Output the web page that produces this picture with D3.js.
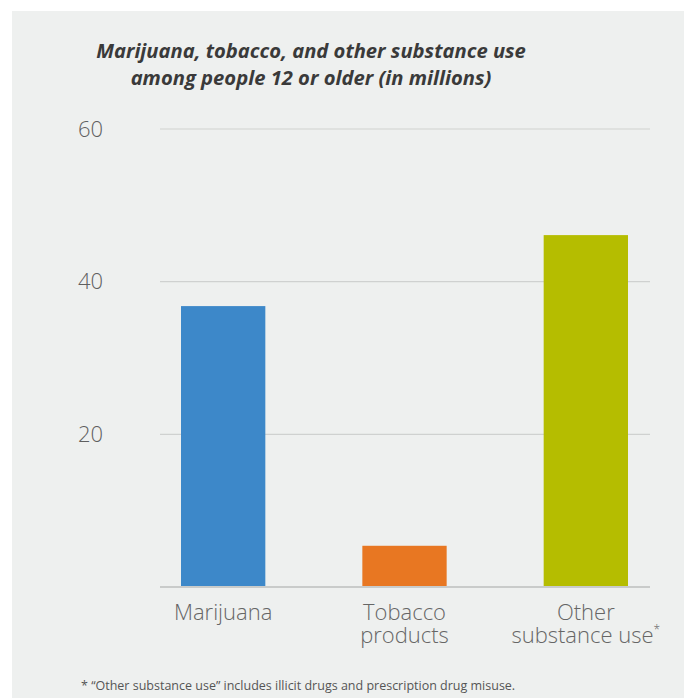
<!DOCTYPE html>
<html>
<head>
<meta charset="utf-8">
<script src="https://cdn.jsdelivr.net/npm/d3@7"></script>
<style>
  html, body { margin: 0; padding: 0; background: #ffffff; }
  svg { display: block; }
</style>
</head>
<body>
<svg id="chart" width="689" height="698"></svg>
<script>
const categories = ["Marijuana", "Tobacco products", "Other substance use"];
const categoryLines = [["Marijuana"], ["Tobacco", "products"], ["Other", "substance use"]];
const values = [36.8, 5.4, 46.1];
const colors = ["#3d88c9", "#e87722", "#b5bd00"];
const yTicks = [20, 40, 60];
const titleLines = ["Marijuana, tobacco, and other substance use", "among people 12 or older (in millions)"];
const footnote = "* \u201cOther substance use\u201d includes illicit drugs and prescription drug misuse.";

const svg = d3.select("#chart");
const font = "'Open Sans', 'Segoe UI', sans-serif";

svg.append("rect").attr("x", 12).attr("y", 11).attr("width", 672).attr("height", 687).attr("fill", "#eef0ef");

const y = d3.scaleLinear().domain([0, 60]).range([587, 129]);
const x = d3.scaleBand().domain(categories).range([132.5, 676.5]).paddingInner(0.535).paddingOuter(0.2675);
const gridX0 = 160, gridX1 = 650;

// gridlines
svg.append("g").selectAll("line").data(yTicks).join("line")
  .attr("x1", gridX0).attr("x2", gridX1)
  .attr("y1", d => y(d)).attr("y2", d => y(d))
  .attr("stroke", "#cfd1d0").attr("stroke-width", 1.2);

// y tick labels
svg.append("g").selectAll("text").data(yTicks).join("text")
  .attr("x", 103).attr("y", d => y(d)).attr("dy", "0.35em")
  .attr("text-anchor", "end")
  .attr("font-family", font).attr("font-weight", 300).attr("font-size", 22)
  .attr("fill", "#5f5f5f")
  .text(d => d);

// bars
svg.append("g").selectAll("rect").data(values).join("rect")
  .attr("x", (d, i) => x(categories[i]))
  .attr("width", x.bandwidth())
  .attr("y", d => y(d))
  .attr("height", d => y(0) - y(d))
  .attr("fill", (d, i) => colors[i]);

// baseline
svg.append("line").attr("x1", gridX0).attr("x2", gridX1)
  .attr("y1", y(0)).attr("y2", y(0))
  .attr("stroke", "#c9cbca").attr("stroke-width", 2);

// category labels (one text element per line)
const labelRows = [];
categories.forEach((c, i) => categoryLines[i].forEach((line, j) => labelRows.push({ c, i, j, line })));
const lab = svg.append("g").selectAll("text").data(labelRows).join("text")
  .attr("x", d => x(d.c) + x.bandwidth() / 2)
  .attr("y", d => 620 + d.j * 23)
  .attr("text-anchor", "middle")
  .attr("font-family", font).attr("font-weight", 300).attr("font-size", 22)
  .attr("fill", "#666666")
  .text(d => d.line);
lab.filter(d => d.i === 2 && d.j === 1)
  .append("tspan").attr("dy", -9).attr("font-size", 12).text("*");

// title
svg.append("g").selectAll("text").data(titleLines).join("text")
  .attr("x", 311).attr("y", (d, i) => 58 + i * 27)
  .attr("text-anchor", "middle")
  .attr("font-family", font).attr("font-weight", 700).attr("font-style", "italic")
  .attr("font-size", 20.2).attr("fill", "#3a3a3a")
  .text(d => d);

// footnote
svg.append("text").attr("x", 81).attr("y", 690)
  .attr("font-family", font).attr("font-weight", 400).attr("font-size", 12.5)
  .attr("fill", "#555555")
  .text(footnote);
</script>
</body>
</html>
